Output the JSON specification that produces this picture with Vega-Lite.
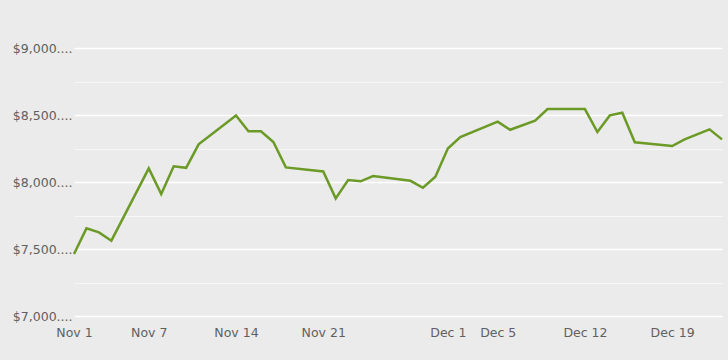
{
  "$schema": "https://vega.github.io/schema/vega-lite/v6.json",
  "autosize": {"type": "none"},
  "width": 648,
  "height": 268,
  "padding": {"left": 74, "top": 48, "right": 6, "bottom": 44},
  "background": "#ebebeb",
  "config": {
    "view": {"stroke": null, "fill": "#ebebeb"},
    "font": "DejaVu Sans",
    "axis": {"labelFont": "DejaVu Sans", "labelFontSize": 12.5, "labelColor": "#606060"}
  },
  "data": {
    "values": [
      {"date": "2022-11-01", "value": 7463},
      {"date": "2022-11-02", "value": 7654},
      {"date": "2022-11-03", "value": 7624},
      {"date": "2022-11-04", "value": 7562},
      {"date": "2022-11-07", "value": 8102},
      {"date": "2022-11-08", "value": 7910},
      {"date": "2022-11-09", "value": 8117},
      {"date": "2022-11-10", "value": 8106},
      {"date": "2022-11-11", "value": 8281},
      {"date": "2022-11-14", "value": 8497},
      {"date": "2022-11-15", "value": 8378},
      {"date": "2022-11-16", "value": 8378},
      {"date": "2022-11-17", "value": 8298},
      {"date": "2022-11-18", "value": 8109},
      {"date": "2022-11-21", "value": 8079},
      {"date": "2022-11-22", "value": 7878},
      {"date": "2022-11-23", "value": 8015},
      {"date": "2022-11-24", "value": 8005},
      {"date": "2022-11-25", "value": 8044},
      {"date": "2022-11-28", "value": 8009},
      {"date": "2022-11-29", "value": 7957},
      {"date": "2022-11-30", "value": 8039},
      {"date": "2022-12-01", "value": 8250},
      {"date": "2022-12-02", "value": 8335},
      {"date": "2022-12-05", "value": 8450},
      {"date": "2022-12-06", "value": 8390},
      {"date": "2022-12-08", "value": 8457},
      {"date": "2022-12-09", "value": 8544},
      {"date": "2022-12-12", "value": 8544},
      {"date": "2022-12-13", "value": 8373},
      {"date": "2022-12-14", "value": 8497},
      {"date": "2022-12-15", "value": 8517},
      {"date": "2022-12-16", "value": 8296},
      {"date": "2022-12-19", "value": 8268},
      {"date": "2022-12-20", "value": 8318},
      {"date": "2022-12-22", "value": 8393},
      {"date": "2022-12-23", "value": 8318}
    ]
  },
  "mark": {"type": "line", "color": "#6b9a26", "strokeWidth": 2.5, "strokeJoin": "miter"},
  "encoding": {
    "x": {
      "field": "date",
      "type": "temporal",
      "title": null,
      "scale": {
        "type": "utc",
        "domain": [
          {"year": 2022, "month": 11, "date": 1, "utc": true},
          {"year": 2022, "month": 12, "date": 23, "utc": true}
        ]
      },
      "axis": {
        "values": [
          {"year": 2022, "month": 11, "date": 1, "utc": true},
          {"year": 2022, "month": 11, "date": 7, "utc": true},
          {"year": 2022, "month": 11, "date": 14, "utc": true},
          {"year": 2022, "month": 11, "date": 21, "utc": true},
          {"year": 2022, "month": 12, "date": 1, "utc": true},
          {"year": 2022, "month": 12, "date": 5, "utc": true},
          {"year": 2022, "month": 12, "date": 12, "utc": true},
          {"year": 2022, "month": 12, "date": 19, "utc": true}
        ],
        "labelExpr": "utcFormat(datum.value, '%b %-d')",
        "grid": false,
        "ticks": false,
        "domain": false,
        "labelPadding": 10,
        "labelFlush": false,
        "labelOverlap": false
      }
    },
    "y": {
      "field": "value",
      "type": "quantitative",
      "title": null,
      "scale": {"domain": [7000, 9000], "nice": false, "zero": false},
      "axis": {
        "values": [7000, 7250, 7500, 7750, 8000, 8250, 8500, 8750, 9000],
        "labelExpr": "datum.value % 500 === 0 ? '$' + format(datum.value, ',') + '....' : ''",
        "grid": true,
        "gridColor": {"condition": {"test": "datum.value % 500 === 0", "value": "#ffffff"}, "value": "#f6f6f6"},
        "gridWidth": {"condition": {"test": "datum.value % 500 === 0", "value": 1.5}, "value": 1},
        "ticks": false,
        "domain": false,
        "labelPadding": 2,
        "labelFlush": false,
        "labelOverlap": false
      }
    }
  }
}
